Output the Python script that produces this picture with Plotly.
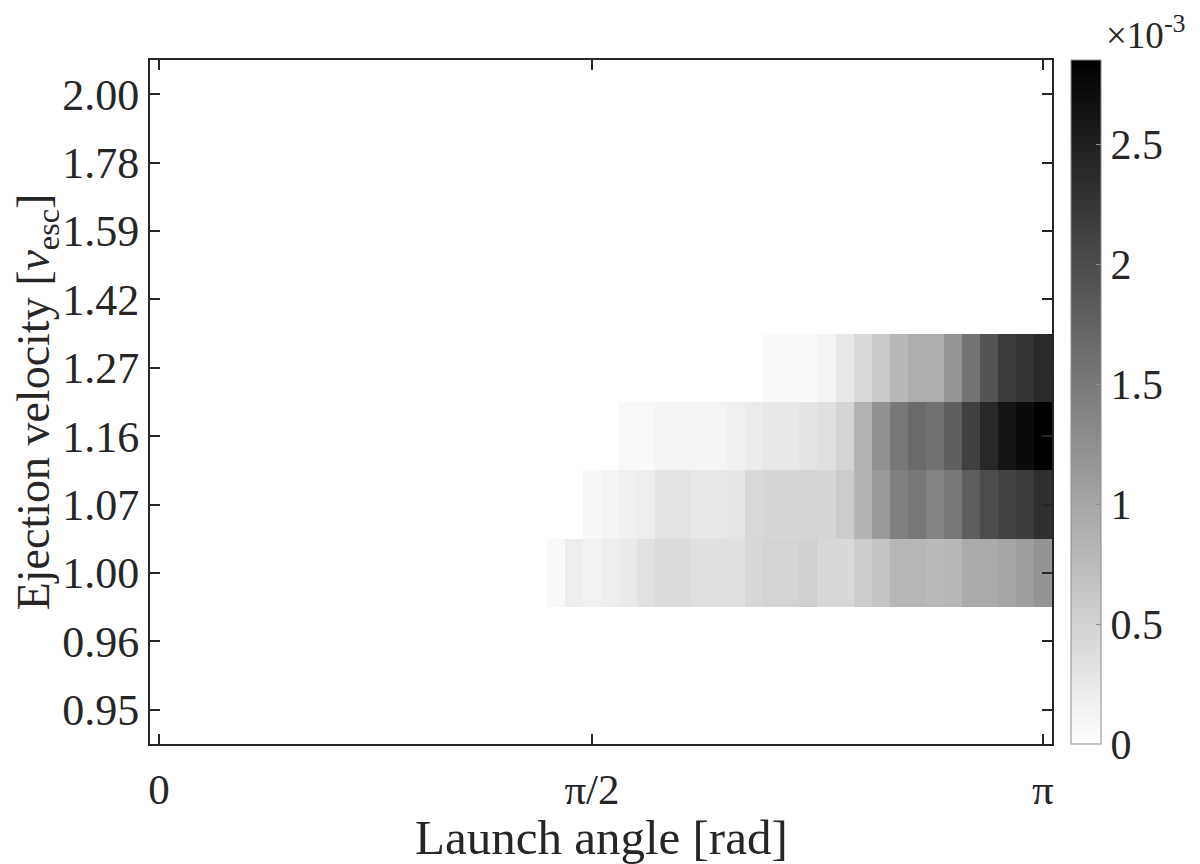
import numpy as np
import plotly.graph_objects as go

# ---- data ----
n_angle = 50
angles = np.linspace(0, np.pi, n_angle)          # launch-angle bin centres [rad]
velocity_labels = ["0.95", "0.96", "1.00", "1.07", "1.16",
                   "1.27", "1.42", "1.59", "1.78", "2.00"]   # [v_esc]
x_tick_text = ["0", "π/2", "π"]
x_tick_index = [0, 24, 49]
cbar_tick_vals = [0, 0.5, 1, 1.5, 2, 2.5]        # in units of 1e-3
cbar_tick_text = ["0", "0.5", "1", "1.5", "2", "2.5"]

# non-zero values (units of 1e-3), first angle-bin index of each row
row_100_start = 22
row_100 = [0.07, 0.20, 0.16, 0.20, 0.23, 0.34, 0.39, 0.39, 0.35, 0.35,
           0.35, 0.44, 0.48, 0.48, 0.53, 0.44, 0.44, 0.57, 0.66, 0.80,
           0.80, 0.77, 0.80, 0.95, 0.95, 1.01, 1.08, 1.20]
row_107_start = 24
row_107 = [0.08, 0.12, 0.17, 0.20, 0.31, 0.31, 0.26, 0.26, 0.29, 0.42,
           0.46, 0.46, 0.49, 0.46, 0.58, 0.84, 1.13, 1.42, 1.51, 1.37,
           1.51, 1.80, 2.00, 2.11, 2.18, 2.31]
row_116_start = 26
row_116 = [0.07, 0.07, 0.12, 0.12, 0.12, 0.12, 0.17, 0.21, 0.26, 0.26,
           0.30, 0.35, 0.48, 0.85, 1.22, 1.51, 1.67, 1.58, 1.79, 2.13,
           2.40, 2.62, 2.73, 2.85]
row_127_start = 34
row_127 = [0.06, 0.06, 0.06, 0.12, 0.26, 0.41, 0.60, 0.79, 0.92, 0.92,
           1.18, 1.55, 1.90, 2.18, 2.27, 2.38]

# ---- build matrix ----
z = np.zeros((len(velocity_labels), n_angle))
for label, start, vals in [("1.00", row_100_start, row_100),
                           ("1.07", row_107_start, row_107),
                           ("1.16", row_116_start, row_116),
                           ("1.27", row_127_start, row_127)]:
    r = velocity_labels.index(label)
    z[r, start:start + len(vals)] = np.array(vals) * 1e-3

zmax = z.max()
dx = angles[1] - angles[0]

FONT = "Liberation Serif"
AXC = "#262626"

# page has an 8px body margin; figure is sized/offset to compensate
W, H = 1192, 856
L, R, T, B = 142, 148, 52, 120
PW = W - L - R
PH = H - T - B

fig = go.Figure(go.Heatmap(
    x=angles,
    y=velocity_labels,
    z=z,
    zmin=0, zmax=zmax,
    colorscale=[[0, "#ffffff"], [1, "#000000"]],
    colorbar=dict(
        x=(1063 - L) / PW, xanchor="left", xref="paper",
        y=0.5, yanchor="middle", len=1.0, lenmode="fraction",
        thickness=30, thicknessmode="pixels",
        outlinewidth=1, outlinecolor="#8c8c8c",
        tickvals=[v * 1e-3 for v in cbar_tick_vals],
        ticktext=cbar_tick_text,
        ticks="inside", ticklen=5, tickcolor="#8c8c8c", tickwidth=1,
        tickfont=dict(family=FONT, size=42, color=AXC),
        ypad=0, xpad=0,
    ),
    showscale=True,
))

fig.update_layout(
    width=W, height=H,
    margin=dict(l=L, r=R, t=T, b=B, pad=0),
    paper_bgcolor="white", plot_bgcolor="white",
    font=dict(family=FONT, color=AXC),
    xaxis=dict(
        range=[angles[0] - dx / 2, angles[-1] + dx / 2],
        tickvals=[angles[i] for i in x_tick_index],
        ticktext=x_tick_text,
        ticks="inside", ticklen=10, tickwidth=1.5, tickcolor=AXC,
        showline=True, linecolor=AXC, linewidth=2, mirror="ticks",
        showgrid=False, zeroline=False,
        ticklabelstandoff=6,
        tickfont=dict(family=FONT, size=43, color=AXC),
    ),
    yaxis=dict(
        type="category",
        range=[-0.5, len(velocity_labels) - 0.5],
        ticks="inside", ticklen=10, tickwidth=1.5, tickcolor=AXC,
        showline=True, linecolor=AXC, linewidth=2, mirror="ticks",
        showgrid=False, zeroline=False,
        tickfont=dict(family=FONT, size=44, color=AXC),
        title=dict(text="Ejection velocity [<i>v</i><sub>esc</sub>]", standoff=4,
                   font=dict(family=FONT, size=46, color=AXC)),
    ),
    annotations=[
        dict(
            text="×10<sup>-3</sup>", xref="paper", yref="paper",
            x=(1096 - L) / PW, y=1 + 2 / PH,
            xanchor="left", yanchor="bottom", showarrow=False,
            font=dict(family=FONT, size=37, color=AXC),
        ),
        dict(
            text="Launch angle [rad]", xref="paper", yref="paper",
            x=0.5, y=-(829 - (H - B)) / PH,
            xanchor="center", yanchor="middle", showarrow=False,
            borderpad=0,
            font=dict(family=FONT, size=49, color=AXC),
        ),
    ],
)

fig.write_html("out.html")
